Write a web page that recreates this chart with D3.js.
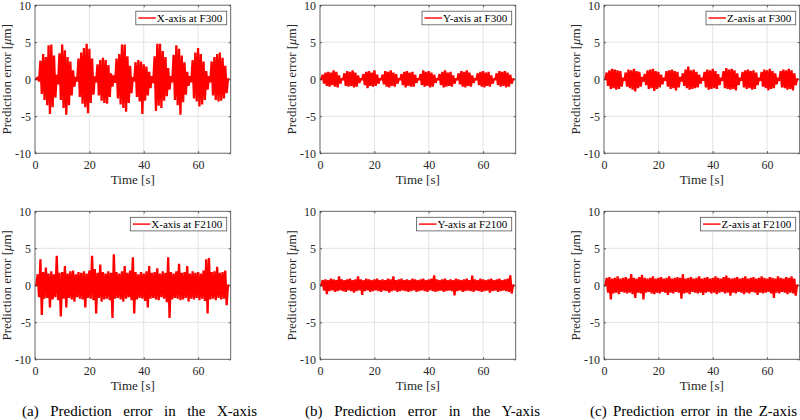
<!DOCTYPE html>
<html><head><meta charset="utf-8">
<script src="https://cdn.jsdelivr.net/npm/d3@7"></script>
<style>body{margin:0;background:#fff} svg{display:block}</style>
</head><body><svg id="c" width="800" height="420"></svg>
<script>
// ---------- data ----------
const timeTicks = [0, 20, 40, 60];
const errorTicks = [-10, -5, 0, 5, 10];
const legendLabels = ["X-axis at F300", "Y-axis at F300", "Z-axis at F300",
                      "X-axis at F2100", "Y-axis at F2100", "Z-axis at F2100"];
const captions = ["(a) Prediction error in the X-axis",
                  "(b) Prediction error in the Y-axis",
                  "(c) Prediction error in the Z-axis"];
// sample times [s] (1 s bins, envelope of the error trace in each bin)
const sampleTimes = d3.range(0, 72);

const xF300Hi = [0,0.3,2.5,3.4,3.0,4.6,4.7,3.2,0.6,3.5, 4.7,3.9,3.0,2.4,1.2,0.3,2.8,3.6,4.2,4.8, 4.1,2.8,0.4,2.0,2.6,2.9,2.6,1.9,0.8,0.5, 2.8,3.4,4.7,4.7,3.1,1.8,0.3,2.3,2.6,2.4, 2.0,1.7,1.0,0.4,3.1,4.8,4.8,3.8,3.0,1.5, 0.4,3.3,4.6,4.1,3.2,2.3,1.0,0.4,2.6,3.6, 4.2,3.4,2.4,1.1,0.4,2.4,3.0,3.4,3.6,2.9, 1.8,0];
const xF300Lo = [0,-0.3,-2.0,-2.8,-3.5,-4.7,-3.8,-2.5,-0.7,-2.8, -3.9,-4.8,-3.5,-2.2,-1.0,-0.3,-2.4,-3.3,-3.8,-4.6, -3.2,-2.1,-0.4,-2.2,-2.9,-3.2,-3.3,-2.4,-1.0,-0.5, -2.6,-3.4,-3.9,-4.4,-3.2,-1.9,-0.3,-2.4,-3.0,-4.7, -2.9,-2.2,-1.2,-0.5,-4.3,-3.6,-3.9,-2.9,-2.3,-1.4, -0.4,-2.8,-3.5,-4.8,-3.1,-2.1,-0.9,-0.4,-2.6,-3.0, -3.7,-3.4,-2.8,-1.4,-0.4,-2.2,-2.8,-3.0,-2.9,-2.6, -1.9,0];

const yF300Hi = [0,0.6,0.9,1.0,0.9,1.2,1.0,0.5,0.1,0.8, 1.1,1.0,1.2,0.9,0.5,0.1,0.7,1.0,1.1,0.9, 1.2,0.6,0.1,0.6,1.1,1.0,1.2,0.9,0.7,0.1, 0.7,1.0,1.1,0.9,1.0,0.6,0.1,0.7,1.2,1.0, 1.1,0.9,0.6,0.1,0.7,1.0,1.2,0.9,1.0,0.5, 0.1,0.8,1.1,1.0,1.2,0.9,0.5,0.1,0.8,1.0, 1.1,0.9,1.0,0.5,0.1,0.8,1.1,1.0,1.1,0.9, 0.6,0];
const yF300Lo = [0,-0.6,-0.9,-1.0,-0.8,-1.0,-1.1,-0.6,-0.1,-0.9, -1.0,-0.9,-1.1,-1.0,-0.5,-0.1,-0.8,-1.2,-0.9,-1.0, -0.9,-0.6,-0.1,-0.7,-1.0,-1.1,-0.9,-1.0,-0.6,-0.1, -0.8,-1.1,-0.9,-1.0,-1.0,-0.5,-0.1,-0.8,-1.0,-0.9, -1.1,-1.0,-0.5,-0.1,-0.8,-1.1,-1.0,-0.9,-1.0,-0.6, -0.1,-0.7,-1.0,-1.1,-0.9,-1.0,-0.5,-0.1,-0.8,-1.0, -1.1,-0.9,-1.0,-0.6,-0.1,-0.8,-1.0,-0.9,-1.1,-1.0, -0.6,0];

const zF300Hi = [0,0.9,1.2,1.4,1.3,1.2,1.1,0.2,0.9,1.3, 1.2,1.4,1.1,1.0,0.3,0.7,1.2,1.3,1.4,1.1, 1.0,0.6,0.2,1.1,1.2,1.3,1.1,1.0,0.3,0.8, 1.3,1.7,1.2,1.3,1.0,0.6,0.2,1.0,1.3,1.2, 1.4,1.1,0.7,0.2,1.1,1.5,1.3,1.4,1.2,0.8, 0.2,1.0,1.2,1.3,1.1,1.2,0.9,0.2,1.0,1.3, 1.2,1.4,1.1,0.8,0.2,1.1,1.3,1.2,1.4,1.2, 0.8,0];
const zF300Lo = [0,-0.9,-1.3,-1.2,-1.4,-1.3,-1.0,-0.2,-1.0,-1.2, -1.4,-1.65,-1.2,-1.0,-0.3,-0.8,-1.3,-1.2,-1.6,-1.3, -1.1,-0.7,-0.2,-1.0,-1.3,-1.2,-1.5,-1.1,-0.3,-0.9, -1.2,-1.4,-1.3,-1.2,-1.1,-0.6,-0.2,-1.1,-1.4,-1.3, -1.2,-1.3,-0.8,-0.2,-1.2,-1.3,-1.4,-1.3,-1.5,-0.8, -0.2,-1.1,-1.3,-1.2,-1.4,-1.3,-0.8,-0.2,-1.0,-1.2, -1.5,-1.3,-1.2,-0.7,-0.2,-1.1,-1.2,-1.4,-1.3,-1.5, -0.8,0];

const xF2100Hi = [0,1.5,3.5,1.8,2.4,1.6,1.9,1.5,4.0,1.7, 1.8,2.6,1.6,1.9,2.0,1.5,1.8,1.7,1.9,1.6, 2.0,4.0,2.2,1.7,2.8,1.8,1.6,1.9,1.7,4.2, 1.8,1.6,1.9,2.6,1.7,2.0,3.8,1.8,1.5,1.8, 1.6,1.9,2.6,1.7,1.8,2.3,1.6,1.9,1.7,3.8, 1.8,1.6,1.9,2.9,1.7,1.8,2.6,1.6,1.9,1.7, 1.8,1.6,2.0,3.5,3.7,1.8,1.9,2.5,1.7,1.8, 2.0,0];
const xF2100Lo = [0,-1.6,-4.0,-1.8,-1.7,-3.0,-1.9,-1.6,-2.0,-4.2, -1.8,-3.0,-1.7,-1.9,-2.2,-1.6,-1.8,-1.9,-3.0,-1.7, -1.8,-2.0,-3.8,-1.7,-2.2,-1.9,-1.8,-2.0,-4.4,-1.8, -1.7,-1.9,-2.2,-1.8,-1.6,-2.0,-3.8,-1.9,-1.7,-1.8, -2.1,-3.0,-1.8,-1.7,-1.9,-2.0,-1.6,-1.8,-2.3,-4.4, -1.9,-1.7,-1.8,-2.0,-1.9,-1.7,-2.2,-1.8,-1.9,-1.7, -2.0,-1.8,-2.1,-3.8,-1.9,-1.8,-2.0,-1.7,-1.9,-1.8, -2.7,0];

const yF2100Hi = [0,0.7,0.8,0.7,0.9,0.8,0.7,1.2,0.8,0.7, 0.8,0.9,0.7,0.8,1.2,0.8,0.7,0.9,0.8,0.7, 0.8,0.9,0.7,0.8,0.7,0.9,0.8,1.2,0.7,0.8, 0.9,0.7,0.8,0.7,0.9,0.8,0.7,0.8,0.9,0.7, 0.8,0.9,1.35,0.8,0.7,0.8,0.9,0.7,0.8,0.7, 0.9,0.8,0.7,0.8,0.9,0.7,1.3,0.8,0.7,0.9, 0.8,0.7,0.8,0.9,0.7,0.8,0.9,0.7,0.8,0.9, 1.35,0];
const yF2100Lo = [0,-0.7,-1.2,-0.8,-0.7,-0.9,-0.8,-0.7,-0.8,-0.9, -0.7,-0.8,-1.0,-0.8,-0.7,-1.3,-0.8,-0.7,-0.9,-0.8, -0.7,-0.8,-0.9,-0.7,-0.8,-1.0,-0.8,-0.7,-0.9,-0.8, -0.7,-0.8,-0.9,-0.8,-0.7,-0.9,-0.8,-0.7,-0.8,-0.9, -0.7,-0.8,-0.9,-0.8,-0.7,-0.9,-0.8,-0.7,-0.8,-1.35, -0.8,-0.7,-0.9,-0.8,-0.7,-0.8,-0.9,-0.7,-0.8,-0.9, -0.8,-0.7,-1.0,-0.8,-0.7,-0.9,-0.8,-0.7,-0.8,-0.9, -1.1,0];

const zF2100Hi = [0,1.0,1.1,0.9,1.0,1.2,0.9,1.0,1.1,0.9, 1.5,1.0,0.9,1.1,1.4,1.0,0.9,1.0,1.2,0.9, 1.0,1.1,0.9,1.0,1.2,0.9,1.0,1.1,1.0,1.5, 0.9,1.0,1.1,0.9,1.0,1.2,0.9,1.0,1.1,0.9, 1.0,1.2,1.0,0.9,1.1,1.3,1.0,0.9,1.0,1.1, 0.9,1.0,1.2,0.9,1.0,1.1,0.9,1.0,1.2,1.0, 0.9,1.1,1.0,0.9,1.2,1.0,0.9,1.1,1.0,1.2, 0.9,0];
const zF2100Lo = [0,-1.0,-1.9,-1.1,-1.0,-1.2,-0.9,-1.0,-1.1,-1.0, -1.2,-1.7,-1.0,-1.1,-1.9,-1.0,-0.9,-1.1,-1.2,-1.0, -1.1,-0.9,-1.0,-1.3,-1.0,-1.1,-0.9,-1.0,-1.8,-1.1, -1.0,-1.2,-0.9,-1.0,-1.1,-1.0,-1.3,-1.0,-0.9,-1.1, -1.0,-1.2,-1.0,-0.9,-1.1,-1.0,-1.4,-1.0,-1.1,-0.9, -1.0,-1.2,-1.0,-1.1,-0.9,-1.0,-1.3,-1.0,-1.1,-1.0, -0.9,-1.1,-1.7,-1.0,-1.1,-0.9,-1.0,-1.2,-1.0,-1.1, -1.4,0];

// ---------- layout ----------
const colX = [35, 320, 604];
const rowY = [5.2, 211.3];
const PW = 195.7, PH = 148;
const FONT = "'Liberation Serif','Times New Roman',serif";
const AX = "#262626";
const captionSpan = [[22, 257], [305, 540], [590, 797]];

const panels = [
  {col:0,row:0,hi:xF300Hi,lo:xF300Lo,label:legendLabels[0]},
  {col:1,row:0,hi:yF300Hi,lo:yF300Lo,label:legendLabels[1]},
  {col:2,row:0,hi:zF300Hi,lo:zF300Lo,label:legendLabels[2]},
  {col:0,row:1,hi:xF2100Hi,lo:xF2100Lo,label:legendLabels[3]},
  {col:1,row:1,hi:yF2100Hi,lo:yF2100Lo,label:legendLabels[4]},
  {col:2,row:1,hi:zF2100Hi,lo:zF2100Lo,label:legendLabels[5]},
];

const svg = d3.select("#c");
const x = d3.scaleLinear().domain([0, 72]).range([0, PW]);
const y = d3.scaleLinear().domain([-10, 10]).range([PH, 0]);

panels.forEach(p => {
  const g = svg.append("g").attr("transform", `translate(${colX[p.col]},${rowY[p.row]})`);

  // grid
  g.selectAll(".gx").data(timeTicks.filter(t => t > 0)).join("line")
    .attr("x1", d => x(d)).attr("x2", d => x(d)).attr("y1", 0).attr("y2", PH)
    .attr("stroke", "#e3e3e3").attr("stroke-width", 1);
  g.selectAll(".gy").data(errorTicks.filter(t => t > -10 && t < 10)).join("line")
    .attr("x1", 0).attr("x2", PW).attr("y1", d => y(d)).attr("y2", d => y(d))
    .attr("stroke", "#e3e3e3").attr("stroke-width", 1);

  // signal: trace alternating between the peak envelope values of each bin
  const zig = [];
  sampleTimes.forEach((t, i) => { zig.push([t, p.hi[i]]); zig.push([t + 0.5, p.lo[i]]); });
  g.append("path")
    .attr("d", d3.line().x(d => x(d[0])).y(d => y(d[1]))(zig))
    .attr("fill", "none").attr("stroke", "#ff0000").attr("stroke-width", 2.3)
    .attr("stroke-linejoin", "bevel");

  // axes (inward ticks)
  const fmt = d => String(d);
  g.append("g").attr("transform", `translate(0,${PH})`)
    .call(d3.axisBottom(x).tickValues(timeTicks).tickSize(-2).tickPadding(7).tickFormat(fmt));
  g.append("g")
    .call(d3.axisLeft(y).tickValues(errorTicks).tickSize(-2).tickPadding(4).tickFormat(fmt));
  g.append("g").call(d3.axisTop(x).tickValues(timeTicks).tickSize(-2).tickFormat(""));
  g.append("g").attr("transform", `translate(${PW},0)`)
    .call(d3.axisRight(y).tickValues(errorTicks).tickSize(-2).tickFormat(""));
  g.selectAll(".domain").remove();
  g.selectAll(".tick line").attr("stroke", AX).attr("stroke-width", 0.8);
  g.selectAll(".tick text").attr("fill", AX).style("font-family", FONT).style("font-size", "12px");

  // frame
  g.append("rect").attr("x", 0).attr("y", 0).attr("width", PW).attr("height", PH)
    .attr("fill", "none").attr("stroke", "#555").attr("stroke-width", 0.9);

  // axis labels
  g.append("text").attr("x", PW / 2).attr("y", PH + 30.5).attr("text-anchor", "middle")
    .style("font-family", FONT).style("font-size", "13px").attr("fill", AX).text("Time [s]");
  const yl = g.append("text").attr("transform", `translate(-24,${PH / 2}) rotate(-90)`)
    .attr("text-anchor", "middle").style("font-family", FONT).style("font-size", "13px").attr("fill", AX);
  yl.append("tspan").text("Prediction error [");
  yl.append("tspan").style("font-style", "italic").text("\u03bc");
  yl.append("tspan").text("m]");

  // legend
  const lg = g.append("g");
  const box = lg.append("rect");
  const txt = lg.append("text").style("font-family", FONT).style("font-size", "11px").attr("fill", "#000").text(p.label);
  const w = txt.node().getComputedTextLength();
  const bw = w + 25.5, bx = PW - 4 - bw, by = 6, bh = 13.6;
  box.attr("x", bx).attr("y", by).attr("width", bw).attr("height", bh)
    .attr("fill", "#fff").attr("stroke", "#555").attr("stroke-width", 0.8);
  txt.attr("x", bx + 21).attr("y", by + 10.6);
  lg.append("line").attr("x1", bx + 2.5).attr("x2", bx + 20).attr("y1", by + bh / 2).attr("y2", by + bh / 2)
    .attr("stroke", "#ff0000").attr("stroke-width", 1.4);
});

// captions (wide word spacing as in the reference)
captions.forEach((c, i) => {
  const [a, b] = captionSpan[i];
  const t = svg.append("text").attr("x", a).attr("y", 415.5)
    .style("font-family", FONT).style("font-size", "15px")
    .attr("fill", "#000").text(c);
  const natural = t.node().getComputedTextLength();
  const spaces = c.split(" ").length - 1;
  t.style("word-spacing", Math.max(0, (b - a - natural) / spaces) + "px");
});
</script></body></html>
